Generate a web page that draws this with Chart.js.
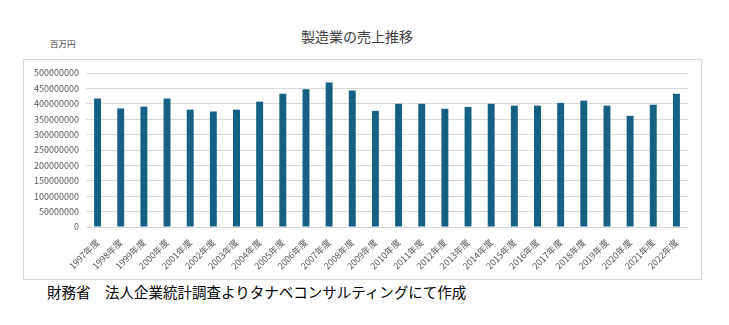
<!DOCTYPE html>
<html>
<head>
<meta charset="utf-8">
<script src="https://cdn.jsdelivr.net/npm/chart.js@4"></script>
<style>
  body { margin: 0; background: #fff; font-family: "Noto Sans CJK JP", sans-serif; }
  #wrap { position: relative; width: 729px; height: 325px; }
  #title { position: absolute; left: 0; width: 714px; top: 26px; text-align: center; font-size: 14px; color: #404040; }
  #unit { position: absolute; left: 50px; top: 37px; font-size: 8.5px; color: #404040; }
  #box { position: absolute; left: 23px; top: 59px; width: 679px; height: 221px; border: 1px solid #d9d9d9; box-sizing: border-box; }
  #source { position: absolute; left: 47px; top: 281px; font-size: 14.5px; color: #000; }
</style>
</head>
<body>
<div id="wrap">
  <div id="title">製造業の売上推移</div>
  <div id="unit">百万円</div>
  <div id="box"><canvas id="salesChart" width="677" height="219"></canvas></div>
  <div id="source">財務省　法人企業統計調査よりタナベコンサルティングにて作成</div>
</div>
<script>
// fiscal years
const years = [
  "1997年度", "1998年度", "1999年度", "2000年度", "2001年度", "2002年度",
  "2003年度", "2004年度", "2005年度", "2006年度", "2007年度", "2008年度",
  "2009年度", "2010年度", "2011年度", "2012年度", "2013年度", "2014年度",
  "2015年度", "2016年度", "2017年度", "2018年度", "2019年度", "2020年度",
  "2021年度", "2022年度"
];

// sales (百万円)
const sales = [
  417000000, 385000000, 391000000, 417000000, 381000000, 375000000,
  381000000, 407000000, 433000000, 447000000, 469000000, 443000000,
  377000000, 400000000, 400000000, 384000000, 390000000, 400000000,
  394000000, 394000000, 403000000, 410000000, 394000000, 361000000,
  397000000, 433000000
];

const yMax = 500000000;
const yStep = 50000000;

const ctx = document.getElementById("salesChart").getContext("2d");
const chart = new Chart(ctx, {
  type: "bar",
  data: {
    labels: years,
    datasets: [
      {
        label: "売上",
        data: sales,
        backgroundColor: "#166083",
        barPercentage: 0.3,
        categoryPercentage: 1.0,
      },
    ],
  },
  options: {
    responsive: false,
    animation: false,
    layout: { padding: { top: 13, right: 13, left: 0, bottom: 0 } },
    plugins: {
      legend: { display: false },
      tooltip: { enabled: false },
    },
    scales: {
      x: {
        grid: { display: false },
        border: { display: false },
        ticks: {
          color: "#595959",
          font: { family: "Noto Sans CJK JP", size: 9 },
          minRotation: 45,
          maxRotation: 45,
          padding: 2,
        },
        afterFit: (scale) => { scale.height = 52; },
      },
      y: {
        min: 0,
        max: yMax,
        border: { display: false },
        grid: { color: "#d9d9d9", lineWidth: 1, drawTicks: false },
        ticks: {
          stepSize: yStep,
          color: "#595959",
          font: { family: "Noto Sans CJK JP", size: 9 },
          padding: 7,
          callback: (v) => String(v),
        },
        afterFit: (scale) => { scale.width = 62; },
      },
    },
  },
});
</script>
</body>
</html>
